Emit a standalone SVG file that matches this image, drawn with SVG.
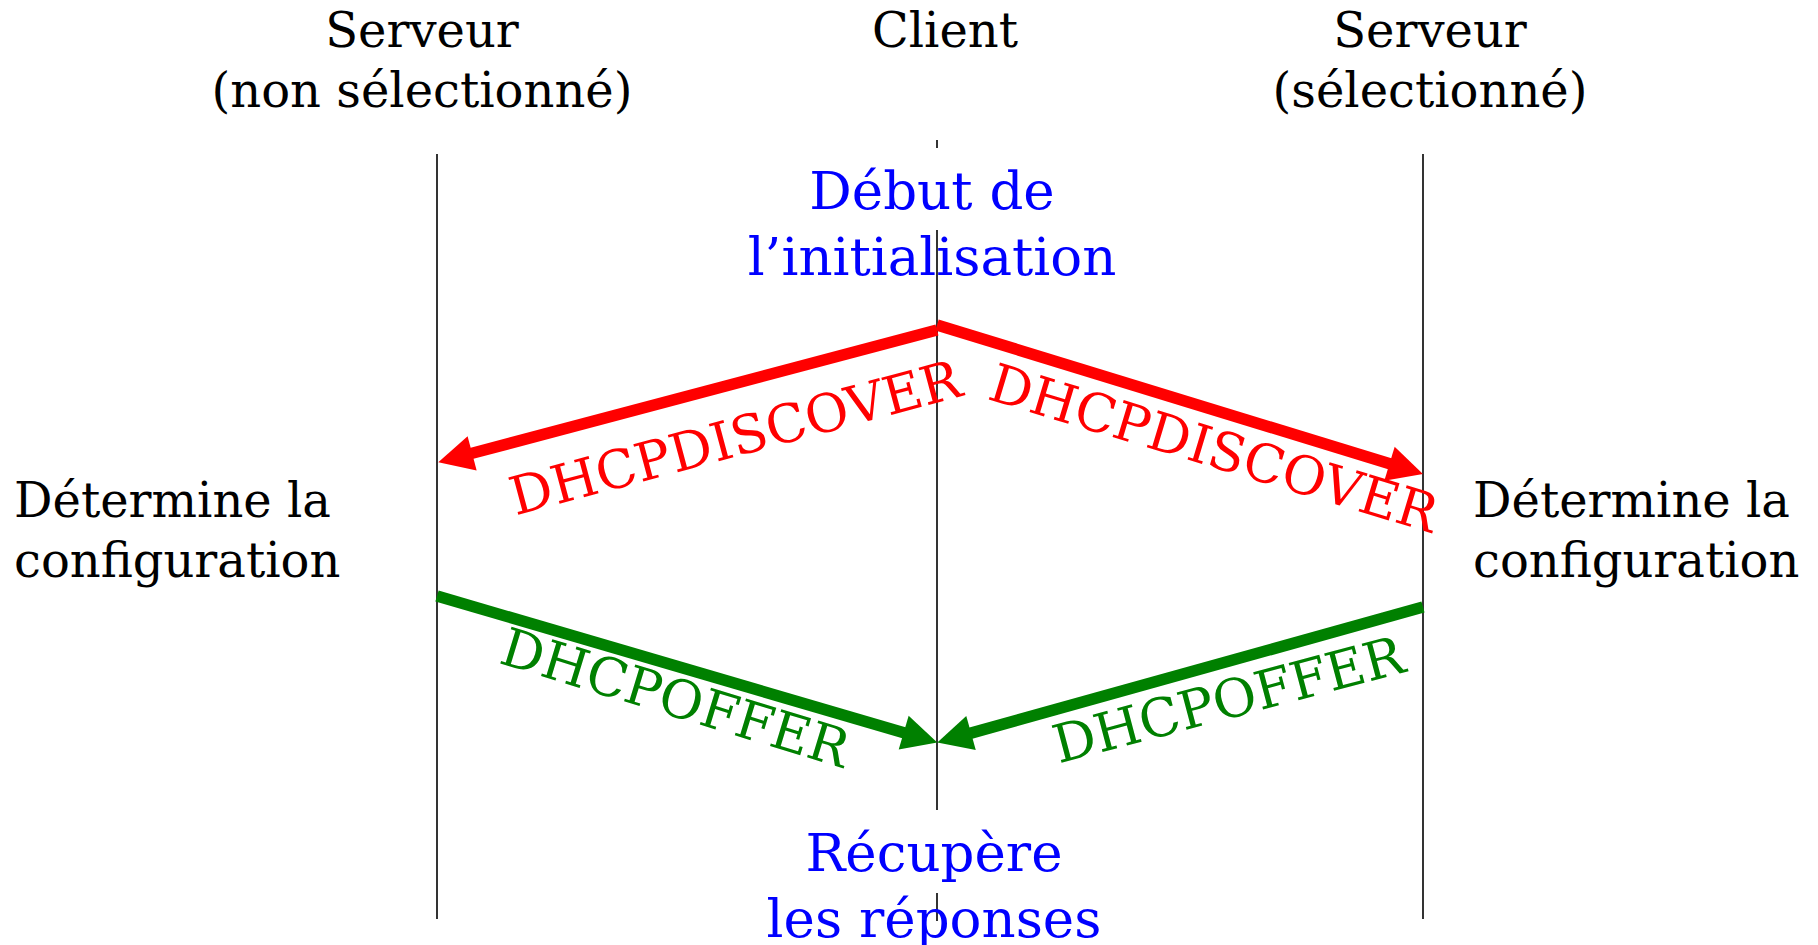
<svg xmlns="http://www.w3.org/2000/svg" width="1818" height="945" viewBox="0 0 1818 945">
<style>
text{font-family:"DejaVu Serif","Liberation Serif",serif}
.h{font-size:48px;fill:#000;text-anchor:middle}
.s{font-size:48px;fill:#000}
.b{font-size:53px;fill:#0000ff;text-anchor:middle}
.lbl{font-size:53px;text-anchor:middle}
.life{stroke:#000;stroke-width:1.6;fill:none}
.red{stroke:#ff0000;stroke-width:11.5;fill:none;marker-end:url(#ar)}
.grn{stroke:#008000;stroke-width:11.5;fill:none;marker-end:url(#ag)}
</style>
<defs>
<marker id="ar" markerUnits="userSpaceOnUse" orient="auto" refX="0" refY="0" overflow="visible">
<path d="M33,0 L-2,-17.7 L-2,17.7 Z" fill="#ff0000"/>
</marker>
<marker id="ag" markerUnits="userSpaceOnUse" orient="auto" refX="0" refY="0" overflow="visible">
<path d="M33,0 L-2,-17.7 L-2,17.7 Z" fill="#008000"/>
</marker>
</defs>
<g id="server-left">
<text class="h" x="422" y="47">Serveur</text>
<text class="h" x="422" y="107">(non sélectionné)</text>
<line class="life" x1="437" y1="154" x2="437" y2="919"/>
</g>
<g id="client">
<text class="h" x="945" y="47">Client</text>
<line class="life" x1="937" y1="140" x2="937" y2="148"/>
<line class="life" x1="937" y1="230" x2="937" y2="810"/>
<line class="life" x1="937" y1="893" x2="937" y2="921"/>
</g>
<g id="server-right">
<text class="h" x="1430" y="47">Serveur</text>
<text class="h" x="1430" y="107">(sélectionné)</text>
<line class="life" x1="1423" y1="154" x2="1423" y2="919"/>
</g>
<g id="start-note">
<text class="b" x="932" y="209">Début de</text>
<text class="b" x="932" y="275">l’initialisation</text>
</g>
<g id="end-note">
<text class="b" x="934" y="871">Récupère</text>
<text class="b" x="934" y="937">les réponses</text>
</g>
<g id="config-left">
<text class="s" x="14" y="517">Détermine la</text>
<text class="s" x="14" y="577">configuration</text>
</g>
<g id="config-right">
<text class="s" x="1473" y="517">Détermine la</text>
<text class="s" x="1473" y="577">configuration</text>
</g>
<g id="connectors">
<path class="red" d="M937,330 L470.2,453.8"/>
<path class="red" d="M937,325 L1391.4,464.3"/>
<path class="grn" d="M437,596 L905.6,733.2"/>
<path class="grn" d="M1423,607 L969.1,733.6"/>
<text class="lbl" fill="#ff0000" transform="translate(740,455.5) rotate(-15)">DHCPDISCOVER</text>
<text class="lbl" fill="#ff0000" transform="translate(1208.5,466) rotate(16.8)">DHCPDISCOVER</text>
<text class="lbl" fill="#008000" transform="translate(670,715.5) rotate(17)">DHCPOFFER</text>
<text class="lbl" fill="#008000" transform="translate(1233,717.5) rotate(-14.8)">DHCPOFFER</text>
</g>
</svg>
